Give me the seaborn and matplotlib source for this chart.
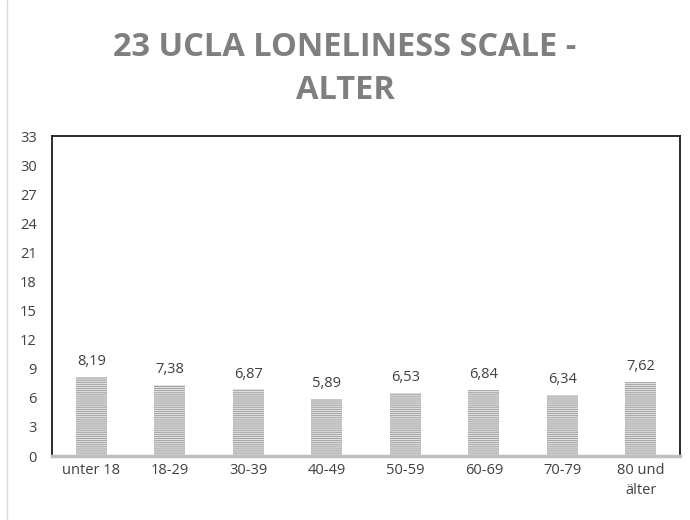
import matplotlib
matplotlib.use("Agg")
import matplotlib.pyplot as plt
import seaborn as sns
import pandas as pd

categories = ["unter 18", "18-29", "30-39", "40-49", "50-59", "60-69", "70-79", "80 und\nälter"]
values = [8.19, 7.38, 6.87, 5.89, 6.53, 6.84, 6.34, 7.62]
yticks = list(range(0, 34, 3))
title = "23 UCLA LONELINESS SCALE -\nALTER"

sns.set_theme(style="white")
plt.rcParams["font.family"] = ["Open Sans", "DejaVu Sans"]
plt.rcParams["hatch.linewidth"] = 0.7

df = pd.DataFrame({"Alter": categories, "Wert": values})

fig = plt.figure(figsize=(6.9, 5.2), dpi=100)
ax = fig.add_axes([0.0754, 0.123, 0.9101, 0.615])

sns.barplot(data=df, x="Alter", y="Wert", ax=ax, color="#e4e4e4", width=0.4,
            saturation=1)
for p in ax.patches:
    p.set_hatch("--------")
    p.set_edgecolor("#a0a0a0")
    p.set_linewidth(0)

for i, v in enumerate(values):
    ax.text(i, v + 0.8, f"{v:.2f}".replace(".", ","), ha="center", va="bottom",
            fontsize=10.5, color="#404040")

ax.set_ylim(0, 33)
ax.set_xlim(-0.5, len(categories) - 0.5)
ax.set_yticks(yticks)
ax.set_yticklabels([str(t) for t in yticks], fontsize=10.5, color="#404040")
ax.tick_params(axis="x", labelsize=10.5, colors="#404040", length=0, pad=5)
for lab in ax.get_xticklabels():
    lab.set_linespacing(1.5)
ax.tick_params(axis="y", length=0, pad=11)
ax.set_xlabel("")
ax.set_ylabel("")
for s in ["left", "top", "right"]:
    ax.spines[s].set_color("#1a1a1a")
    ax.spines[s].set_linewidth(1.3)
ax.spines["bottom"].set_color("#bfbfbf")
ax.spines["bottom"].set_linewidth(2.5)
ax.spines["bottom"].set_zorder(5)

fig.text(0.5, 0.867, title, ha="center", va="center", fontsize=23.5, fontweight="bold",
         color="#7f7f7f", linespacing=1.42)

fig.add_artist(plt.Line2D([0.01, 0.01], [0, 1], color="#d9d9d9", lw=1, transform=fig.transFigure))

fig.savefig("out.png", dpi=100)
